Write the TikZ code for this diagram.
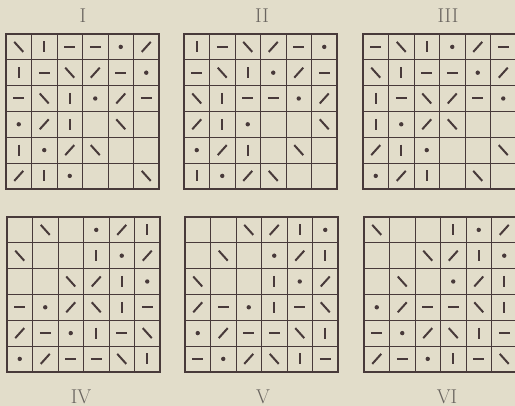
\documentclass[tikz,border=0pt]{standalone}
\usetikzlibrary{positioning}

\definecolor{fond}{RGB}{226,221,202}
\definecolor{encre}{RGB}{72,58,58}
\definecolor{titre}{RGB}{105,100,95}

\tikzset{
  fin/.style={encre, line width=0.9pt},
  epais/.style={encre, line width=1.6pt},
  trait/.style={encre, line width=2pt},
  numero/.style={titre, font=\fontsize{20}{20}\selectfont},
  symb/.pic={\draw[trait] (-4.5,-5) -- (4.5,5);},
  syms/.pic={\draw[trait] (-4.5,5) -- (4.5,-5);},
  symv/.pic={\draw[trait] (0,-5.5) -- (0,5.5);},
  symh/.pic={\draw[trait] (-5.5,0) -- (5.5,0);},
  symd/.pic={\fill[encre] (0,0) circle (2.2);},
  syme/.pic={}
}

\newcommand{\lx}{25.5}
\newcommand{\ly}{25.8}

% une grille 6x6 : #1 x, #2 y, #3 lignes
\newcommand{\grille}[3]{%
  \begin{scope}[shift={(#1,#2)}]
    \foreach \k in {1,2,4,5} {
      \draw[fin] (\k*\lx,0) -- (\k*\lx,6*\ly);
      \draw[fin] (0,\k*\ly) -- (6*\lx,\k*\ly);
    }
    \draw[epais] (3*\lx,0) -- (3*\lx,6*\ly) (0,3*\ly) -- (6*\lx,3*\ly);
    \draw[epais] (0,0) rectangle (6*\lx,6*\ly);
    \foreach \ligne [count=\i] in {#3} {
      \foreach \c [count=\j] in \ligne
        \pic at ({(\j-0.5)*\lx},{(\i-0.5)*\ly}) {sym\c};
    }
  \end{scope}}

\begin{document}
\begin{tikzpicture}[x=1pt,y=-1pt]
\fill[fond] (0,0) rectangle (515,406);
\useasboundingbox (0,0) rectangle (515,406);

% Grilles du haut
\grille{6}{34}{{b,v,h,h,d,s},{v,h,b,s,h,d},{h,b,v,d,s,h},{d,s,v,e,b,e},{v,d,s,b,e,e},{s,v,d,e,e,b}}
\grille{184}{34}{{v,h,b,s,h,d},{h,b,v,d,s,h},{b,v,h,h,d,s},{s,v,d,e,e,b},{d,s,v,e,b,e},{v,d,s,b,e,e}}
\grille{363}{34}{{h,b,v,d,s,h},{b,v,h,h,d,s},{v,h,b,s,h,d},{v,d,s,b,e,e},{s,v,d,e,e,b},{d,s,v,e,b,e}}

% Grilles du bas
\grille{7}{217}{{e,b,e,d,s,v},{b,e,e,v,d,s},{e,e,b,s,v,d},{h,d,s,b,v,h},{s,h,d,v,h,b},{d,s,h,h,b,v}}
\grille{185}{217}{{e,e,b,s,v,d},{e,b,e,d,s,v},{b,e,e,v,d,s},{s,h,d,v,h,b},{d,s,h,h,b,v},{h,d,s,b,v,h}}
\grille{364}{217}{{b,e,e,v,d,s},{e,e,b,s,v,d},{e,b,e,d,s,v},{d,s,h,h,b,v},{h,d,s,b,v,h},{s,h,d,v,h,b}}

% Numeros
\node[numero] (n1) at (83,15.5) {I};
\node[numero] (n2) at (262,15.5) {II};
\node[numero] (n3) at (448,15.5) {III};
\node[numero] (n4) at (81,396.5) {IV};
\node[numero] (n5) at (263,396.5) {V};
\node[numero] (n6) at (447,396.5) {VI};
\end{tikzpicture}
\end{document}
